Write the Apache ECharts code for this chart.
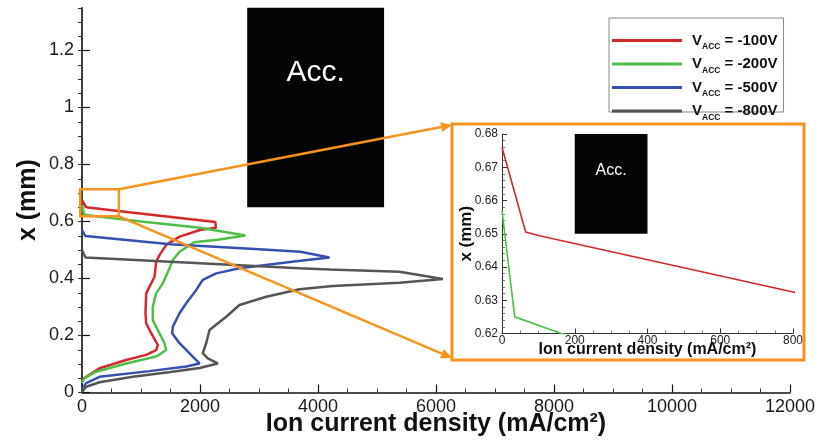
<!DOCTYPE html>
<html><head><meta charset="utf-8">
<script src="https://cdn.jsdelivr.net/npm/echarts@6/dist/echarts.min.js"></script>
<style>html,body{margin:0;padding:0;background:#fff}#c{width:818px;height:440px}</style>
</head><body><div id="c"></div>
<script>
// ---- data: [ion current density (mA/cm^2), x (mm)] ----
const seriesNames = ['-100V', '-200V', '-500V', '-800V'];
const vacc100 = [[0,0.676],[65,0.6505],[100,0.6495],[800,0.6325],[2260,0.598],[2270,0.578],[2000,0.570],[1653,0.547],[1427,0.518],[1314,0.482],[1257,0.459],[1229,0.406],[1088,0.348],[1076,0.278],[1088,0.243],[1172,0.208],[1285,0.167],[1257,0.149],[1088,0.132],[749,0.114],[297,0.085],[71,0.055],[0,0.044]];
const vacc200 = [[0,0.657],[35,0.625],[163,0.620],[1000,0.600],[2000,0.578],[2770,0.551],[2300,0.536],[1900,0.527],[1653,0.494],[1540,0.465],[1483,0.436],[1370,0.383],[1257,0.348],[1200,0.301],[1200,0.254],[1285,0.219],[1398,0.173],[1427,0.149],[1257,0.126],[749,0.102],[240,0.073],[42,0.050],[0,0.033]];
const vacc500 = [[0,0.570],[59,0.549],[1500,0.520],[3000,0.503],[3700,0.494],[4195,0.474],[3700,0.462],[2669,0.436],[2275,0.418],[2047,0.395],[1936,0.360],[1766,0.313],[1653,0.278],[1540,0.231],[1528,0.208],[1653,0.173],[1878,0.126],[1992,0.102],[1766,0.091],[1144,0.075],[297,0.055],[71,0.033],[0,0.012]];
const vacc800 = [[0,0.500],[59,0.474],[3686,0.436],[4195,0.432],[5381,0.424],[6116,0.398],[5381,0.385],[4251,0.374],[3686,0.362],[3122,0.336],[2669,0.307],[2444,0.266],[2161,0.219],[2105,0.173],[2047,0.138],[2132,0.120],[2302,0.102],[1992,0.086],[1500,0.072],[861,0.055],[297,0.036],[71,0.020],[0,0.002]];
const seriesData = [vacc100, vacc200, vacc500, vacc800];
// accelerator electrode region [xFrom, xTo, yFrom, yTo]
const accMain = [2800, 5120, 0.65, 1.35];
const accInset = [200, 400, 0.65, 0.68];
const accLabel = 'Acc.';
// zoomed region marked on main plot [xFrom, xTo, yFrom, yTo]
const zoomBox = [-30, 625, 0.618, 0.713];
// axes
const mainX = {min: 0, max: 12000, interval: 2000};
const mainY = {min: 0, max: 1.35, interval: 0.2, minor: 0.05};
const insetX = {min: 0, max: 800, interval: 200};
const insetY = {min: 0.62, max: 0.68, interval: 0.01};
const xTitle = 'Ion current density (mA/cm²)';
const yTitle = 'x (mm)';

const colors = ['#d3282c', '#4fbf48', '#3650b2', '#555555'];
const FONT = 'Liberation Sans, Arial, Helvetica, sans-serif';
const ORANGE = '#f7941d';

const chart = echarts.init(document.getElementById('c'), null, {renderer: 'canvas'});

const series = [];
seriesData.forEach((d, i) => {
  const s = {
    name: seriesNames[i], type: 'line', data: d, xAxisIndex: 0, yAxisIndex: 0,
    showSymbol: false, symbol: 'none', lineStyle: {width: 2.5, color: colors[i]}, itemStyle: {color: colors[i]},
    z: 5, silent: true
  };
  if (i === 0) {
    s.markArea = {
      silent: true,
      itemStyle: {color: '#050505'},
      label: {show: true, position: 'insideTop', distance: 50, color: '#fff', fontSize: 30, fontFamily: FONT},
      data: [[{xAxis: accMain[0], yAxis: accMain[2], name: accLabel}, {xAxis: accMain[1], yAxis: accMain[3]}]]
    };
  }
  series.push(s);
});
seriesData.forEach((d, i) => {
  const s = {
    name: seriesNames[i], type: 'line', data: d, xAxisIndex: 1, yAxisIndex: 2,
    showSymbol: false, symbol: 'none', lineStyle: {width: 1.6, color: colors[i]}, itemStyle: {color: colors[i]},
    clip: true, z: 5, silent: true
  };
  if (i === 0) {
    s.markArea = {
      silent: true,
      itemStyle: {color: '#050505'},
      label: {show: true, position: 'insideTop', distance: 29, color: '#fff', fontSize: 16, fontFamily: FONT},
      data: [[{xAxis: accInset[0], yAxis: accInset[2], name: accLabel}, {xAxis: accInset[1], yAxis: accInset[3]}]]
    };
  }
  series.push(s);
});

const plain = v => String(v);
const axisLineStyle = {color: '#111', width: 1.6};
const option = {
  backgroundColor: '#fff',
  animation: false,
  textStyle: {fontFamily: FONT},
  grid: [
    {left: 82, top: 7.75, width: 708, height: 384.75, containLabel: false, outerBoundsMode: 'none'},
    {left: 502, top: 134, width: 291, height: 199.5, containLabel: false, outerBoundsMode: 'none'}
  ],
  xAxis: [
    {
      gridIndex: 0, type: 'value', min: mainX.min, max: mainX.max, interval: mainX.interval,
      axisLine: {show: true, onZero: false, lineStyle: axisLineStyle},
      axisTick: {show: true, inside: true, length: 8, lineStyle: {color: '#111', width: 1.2}},
      minorTick: {show: true, splitNumber: 4, length: 4, lineStyle: {color: '#333', width: 1}},
      splitLine: {show: false}, minorSplitLine: {show: false},
      axisLabel: {fontSize: 18, color: '#1a1a1a', margin: 6, fontFamily: FONT, formatter: plain},
      name: xTitle, nameLocation: 'middle', nameGap: 19, nameMoveOverlap: false,
      nameTextStyle: {fontSize: 25, fontWeight: 'bold', color: '#111', fontFamily: FONT}
    },
    {
      gridIndex: 1, type: 'value', min: insetX.min, max: insetX.max, interval: insetX.interval,
      axisLine: {show: true, onZero: false, lineStyle: {color: '#333', width: 1}},
      axisTick: {show: true, inside: true, length: 5, lineStyle: {color: '#333', width: 1}},
      minorTick: {show: true, splitNumber: 4, length: 3, lineStyle: {color: '#555', width: 0.8}},
      splitLine: {show: false},
      axisLabel: {fontSize: 12, color: '#222', margin: 1, fontFamily: FONT, formatter: plain},
      name: xTitle, nameLocation: 'middle', nameGap: 8, nameMoveOverlap: false,
      nameTextStyle: {fontSize: 16, fontWeight: 'bold', color: '#111', fontFamily: FONT}
    }
  ],
  yAxis: [
    {
      gridIndex: 0, type: 'value', min: mainY.min, max: mainY.max, interval: mainY.interval,
      axisLine: {show: true, onZero: false, lineStyle: axisLineStyle},
      axisTick: {show: true, inside: true, length: 8, lineStyle: {color: '#111', width: 1.2}},
      splitLine: {show: false},
      axisLabel: {fontSize: 18, color: '#1a1a1a', margin: 8, showMaxLabel: false, fontFamily: FONT, formatter: plain},
      name: yTitle, nameLocation: 'middle', nameGap: 41, nameRotate: 90, nameMoveOverlap: false,
      nameTextStyle: {fontSize: 25, fontWeight: 'bold', color: '#111', fontFamily: FONT}
    },
    {
      gridIndex: 0, type: 'value', min: mainY.min, max: mainY.max, interval: mainY.minor,
      axisLine: {show: false},
      axisTick: {show: true, inside: true, length: 4, lineStyle: {color: '#333', width: 1}},
      splitLine: {show: false}, axisLabel: {show: false}
    },
    {
      gridIndex: 1, type: 'value', min: insetY.min, max: insetY.max, interval: insetY.interval,
      axisLine: {show: true, onZero: false, lineStyle: {color: '#333', width: 1}},
      axisTick: {show: true, inside: true, length: 5, lineStyle: {color: '#333', width: 1}},
      minorTick: {show: true, splitNumber: 5, length: 3, lineStyle: {color: '#555', width: 0.8}},
      splitLine: {show: false},
      axisLabel: {fontSize: 12, color: '#222', margin: 4, fontFamily: FONT, formatter: v => v.toFixed(2)},
      name: yTitle, nameLocation: 'middle', nameGap: 27, nameRotate: 90, nameMoveOverlap: false,
      nameTextStyle: {fontSize: 17, fontWeight: 'bold', color: '#111', fontFamily: FONT}
    }
  ],
  legend: {
    data: seriesNames,
    orient: 'vertical', left: 609, top: 18,
    itemWidth: 70, itemHeight: 3, itemGap: 5, icon: 'rect',
    borderColor: '#888', borderWidth: 1, padding: [15, 6, -10, 3],
    backgroundColor: '#fff',
    selectedMode: false,
    formatter: n => '{v|V}{s|ACC}{t| = ' + n + '}',
    textStyle: {
      fontFamily: FONT,
      rich: {
        v: {fontSize: 15, fontWeight: 'bold', lineHeight: 22, color: '#111', padding: [0, 0, 0, 5], fontFamily: FONT},
        s: {fontSize: 8.5, fontWeight: 'bold', verticalAlign: 'bottom', color: '#111', fontFamily: FONT},
        t: {fontSize: 15, fontWeight: 'bold', lineHeight: 22, color: '#111', fontFamily: FONT}
      }
    }
  },
  series: series
};
chart.setOption(option);

// annotation: zoom box and arrows to inset
const tl = chart.convertToPixel({gridIndex: 0}, [zoomBox[0], zoomBox[3]]);
const br = chart.convertToPixel({gridIndex: 0}, [zoomBox[1], zoomBox[2]]);
const inset = {x: 452, y: 124, w: 352, h: 236};
function arrowParts(x1, y1, x2, y2) {
  const a = Math.atan2(y2 - y1, x2 - x1), L = 11, W = 5;
  const bx = x2 - L * Math.cos(a), by = y2 - L * Math.sin(a);
  const px = -Math.sin(a) * W, py = Math.cos(a) * W;
  return {
    line: {type: 'line', shape: {x1: x1, y1: y1, x2: bx, y2: by}, style: {stroke: ORANGE, lineWidth: 2.5}, z: 100},
    head: {type: 'polygon', shape: {points: [[x2, y2], [bx + px, by + py], [bx - px, by - py]]}, style: {fill: ORANGE}, z: 100}
  };
}
const a1 = arrowParts(br[0], tl[1], inset.x, inset.y + 1);
const a2 = arrowParts(br[0], br[1], inset.x, inset.y + inset.h - 2);
chart.setOption({
  graphic: [
    {type: 'rect', shape: {x: tl[0], y: tl[1], width: br[0] - tl[0], height: br[1] - tl[1]}, style: {fill: 'rgba(0,0,0,0)', stroke: ORANGE, lineWidth: 2.5}, z: 100},
    {type: 'rect', shape: {x: inset.x, y: inset.y, width: inset.w, height: inset.h}, style: {fill: 'rgba(0,0,0,0)', stroke: ORANGE, lineWidth: 3}, z: 100},
    a1.line, a1.head, a2.line, a2.head
  ]
});
</script></body></html>
